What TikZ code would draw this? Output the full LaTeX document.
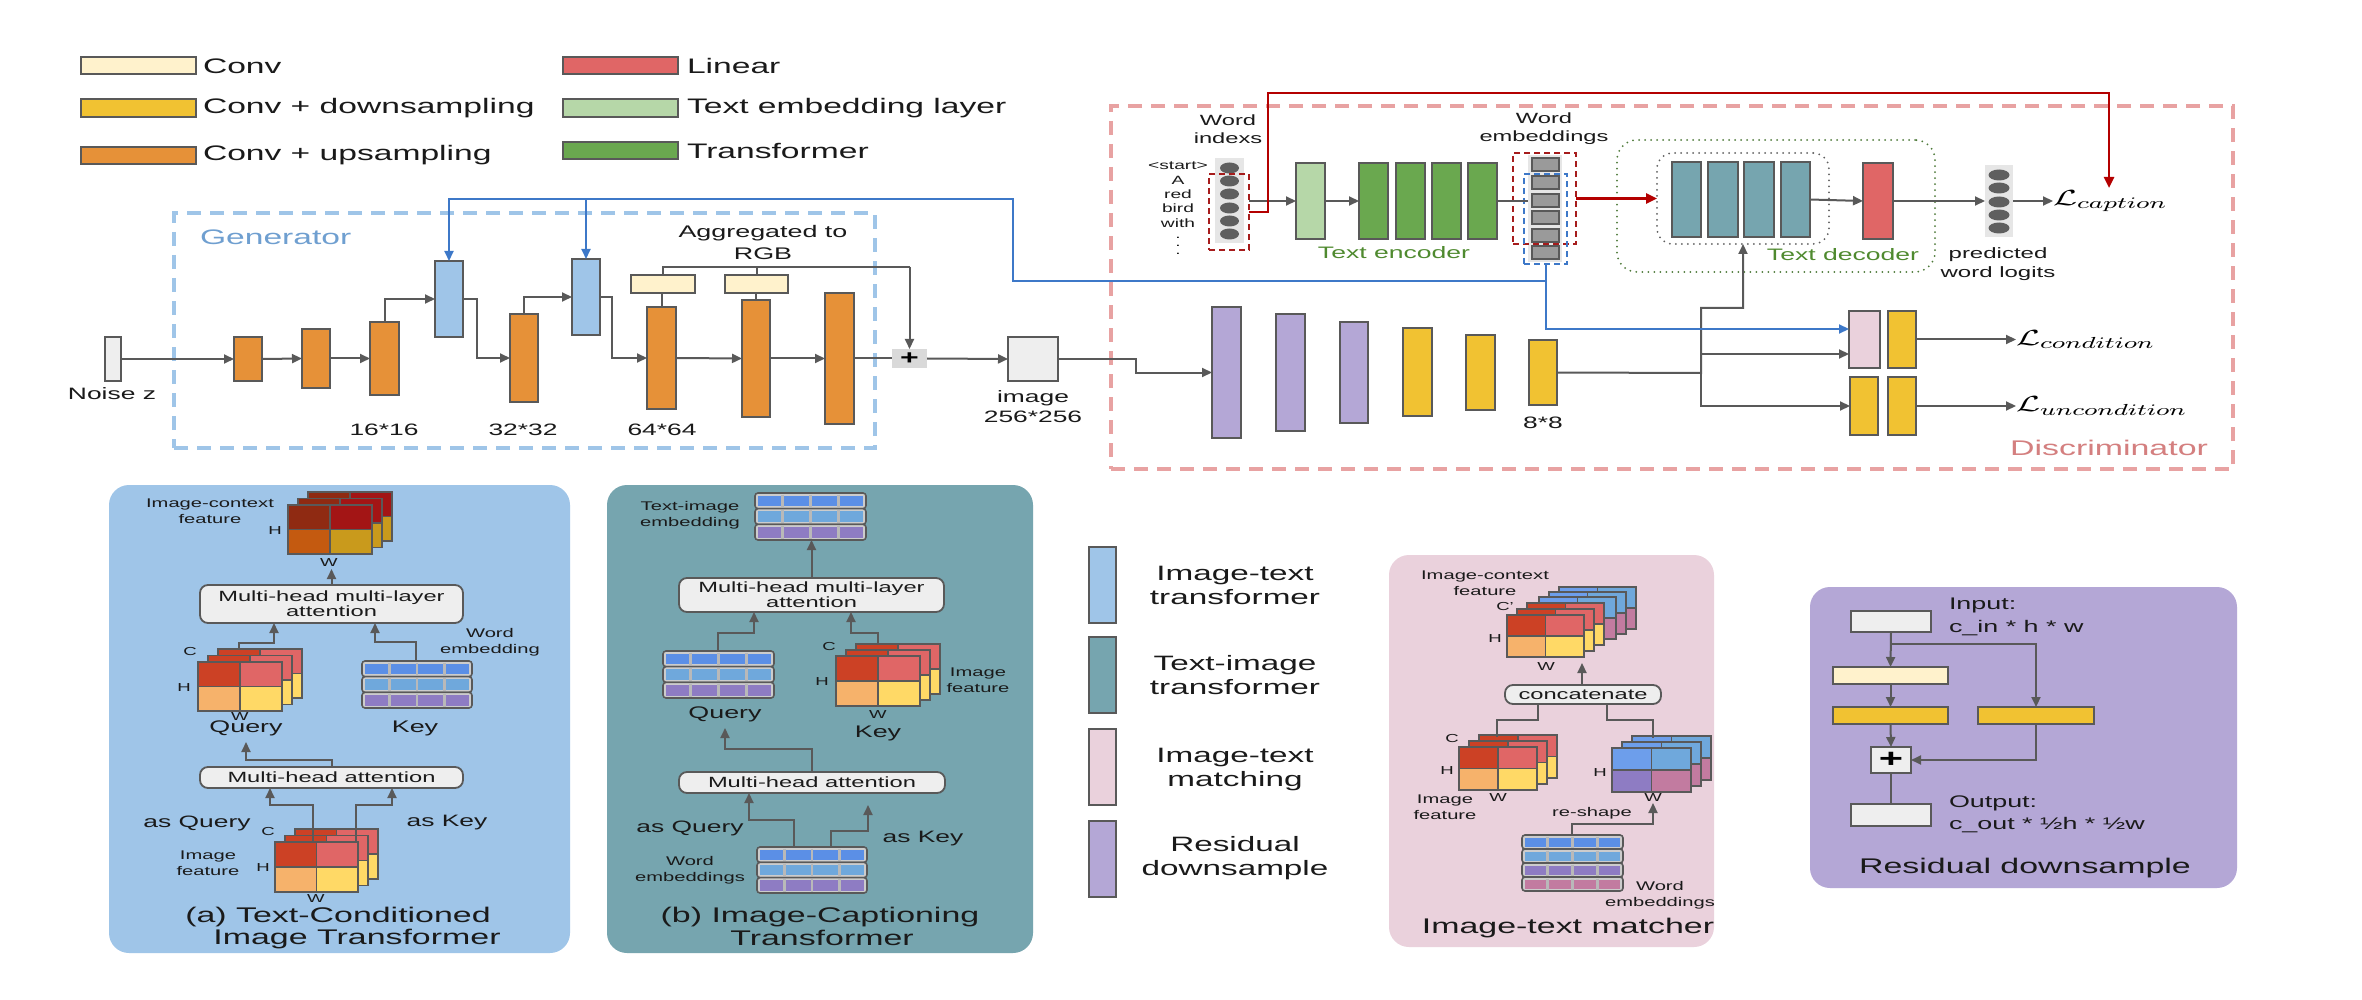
\documentclass[tikz,border=0pt]{standalone}
\usepackage{fontspec}
\setmainfont[FakeStretch=1.6]{Liberation Sans}
\usepackage{graphicx}
\usetikzlibrary{arrows.meta,calc,shapes.geometric}
\definecolor{cconv}{HTML}{FFF2CC}
\definecolor{cdown}{HTML}{F1C232}
\definecolor{cup}{HTML}{E69138}
\definecolor{clin}{HTML}{E06666}
\definecolor{ctemb}{HTML}{B6D7A8}
\definecolor{ctrans}{HTML}{6AA84F}
\definecolor{cit}{HTML}{9FC5E8}
\definecolor{cti}{HTML}{76A5AF}
\definecolor{cmatch}{HTML}{EAD1DC}
\definecolor{cres}{HTML}{B4A7D6}
\definecolor{bord}{HTML}{595959}
\definecolor{lgray}{HTML}{595959}
\definecolor{lgfill}{HTML}{EEEEEE}
\definecolor{plusg}{HTML}{D9D9D9}
\definecolor{colbg}{HTML}{E6E6E6}
\definecolor{dotc}{HTML}{5F5F5F}
\definecolor{sqc}{HTML}{9A9A9A}
\definecolor{bline}{HTML}{3D78C8}
\definecolor{rline}{HTML}{B40000}
\definecolor{rdk}{HTML}{A61C1C}
\definecolor{gdash}{HTML}{9FC5E8}
\definecolor{ddash}{HTML}{E8A2A2}
\definecolor{gent}{HTML}{6F9FD0}
\definecolor{disct}{HTML}{D47F7F}
\definecolor{dgreen}{HTML}{4E7A3A}
\definecolor{enct}{HTML}{4F8A2F}
\definecolor{txtc}{HTML}{1A1A1A}
\definecolor{icA}{HTML}{8F2A12}
\definecolor{icB}{HTML}{A31515}
\definecolor{icC}{HTML}{C45A10}
\definecolor{icD}{HTML}{C99A1C}
\definecolor{qA}{HTML}{CC4125}
\definecolor{qB}{HTML}{E06666}
\definecolor{qC}{HTML}{F6B26B}
\definecolor{qD}{HTML}{FFD966}
\definecolor{mA}{HTML}{6D9EEB}
\definecolor{mB}{HTML}{6FA8DC}
\definecolor{mC}{HTML}{8E7CC3}
\definecolor{mD}{HTML}{C27BA0}
\definecolor{wbA}{HTML}{5B8FE6}
\definecolor{wbB}{HTML}{6FA8DC}
\definecolor{wpu}{HTML}{8E7CC3}
\definecolor{wpk}{HTML}{C27BA0}
\newcommand{\fs}[2]{\fontsize{#1}{#2}\selectfont}
\newcommand{\mkbox}[7]{%
  \pgfmathsetmacro\mbcx{(#3+#5)/2}%
  \pgfmathsetmacro\mbcy{(#4+#6)/2}%
  \pgfmathsetmacro\mbw{abs(#5-#3)/2}%
  \pgfmathsetmacro\mbh{abs(#6-#4)/2}%
  \node[#2,minimum width=\mbw pt,minimum height=\mbh pt] (#1) at (\mbcx,\mbcy) {#7};}
\newcommand{\fcols}[4]{\def\fTL{#1}\def\fTR{#2}\def\fBL{#3}\def\fBR{#4}}
\newcommand{\fstack}[7]{%
  \foreach \i in {#5,...,1}{%
    \pgfmathsetmacro\fx{#1+(\i-1)*#6}%
    \pgfmathsetmacro\fy{#2+(\i-1)*#7}%
    \pgfmathsetmacro\fxm{\fx+#3/2}%
    \pgfmathsetmacro\fxe{\fx+#3}%
    \pgfmathsetmacro\fym{\fy+#4/2}%
    \pgfmathsetmacro\fye{\fy+#4}%
    \fill[\fTL] (\fx,\fy) rectangle (\fxm,\fym);
    \fill[\fTR] (\fxm,\fy) rectangle (\fxe,\fym);
    \fill[\fBL] (\fx,\fym) rectangle (\fxm,\fye);
    \fill[\fBR] (\fxm,\fym) rectangle (\fxe,\fye);
    \draw[bord,line width=0.9pt] (\fx,\fy) rectangle (\fxe,\fye) (\fxm,\fy) -- (\fxm,\fye) (\fx,\fym) -- (\fxe,\fym);
  }}
\newcommand{\wgrid}[6]{%
  \pgfmathsetmacro\wgh{(#4-#2)/#5}%
  \pgfmathsetmacro\wgq{(#3-#1)/4}%
  \foreach \wc [count=\wr] in {#6}{%
    \pgfmathsetmacro\wya{#2+(\wr-1)*\wgh}%
    \pgfmathsetmacro\wyb{\wya+\wgh}%
    \draw[draw=bord,fill=gray!40,line width=0.8pt,rounded corners=1.5pt] (#1,\wya) rectangle (#3,\wyb);
    \fill[\wc] ($(#1,\wya)+(3,2.5)$) rectangle ($(#3,\wyb)+(-3,-2.5)$);
    \foreach \k in {1,2,3}{\draw[gray!55,line width=1.3pt] ($(#1,\wya)+(\k*\wgq,1.5)$) -- ($(#1,\wyb)+(\k*\wgq,-1.5)$);}
  }}
\begin{document}
\begin{tikzpicture}[x=0.5pt,y=-0.5pt,
  blk/.style={draw=bord,line width=0.9pt,inner sep=0pt,outer sep=0pt},
  nob/.style={inner sep=0pt,outer sep=0pt},
  txt/.style={inner sep=0pt,outer sep=0pt,align=center,text=txtc},
  conn/.style={draw=lgray,line width=1pt,-{Triangle[length=5pt,width=4.5pt]}},
  plainln/.style={draw=lgray,line width=1pt},
  bconn/.style={draw=bline,line width=1pt,-{Triangle[length=5pt,width=4.5pt]}},
  bplain/.style={draw=bline,line width=1pt},
  rconn/.style={draw=rline,line width=1.2pt,-{Triangle[length=5.5pt,width=5pt]}},
  rdash/.style={draw=rdk,line width=0.9pt,dash pattern=on 3pt off 2pt,inner sep=0pt,outer sep=0pt},
  bdash/.style={draw=bline,line width=0.9pt,dash pattern=on 3pt off 2pt,inner sep=0pt,outer sep=0pt},
  dotgreen/.style={draw=dgreen,line width=1pt,line cap=round,dash pattern=on 0pt off 3pt,rounded corners=10pt,inner sep=0pt,outer sep=0pt},
  dotgray/.style={draw=dotc,line width=1pt,line cap=round,dash pattern=on 0pt off 3pt,rounded corners=8pt,inner sep=0pt,outer sep=0pt},
  gbox/.style={draw=gdash,line width=2pt,dash pattern=on 7pt off 4.5pt,inner sep=0pt,outer sep=0pt},
  dbox/.style={draw=ddash,line width=2pt,dash pattern=on 7pt off 4.5pt,inner sep=0pt,outer sep=0pt},
  wdot/.style={ellipse,fill=dotc,inner sep=0pt,minimum width=9.5pt,minimum height=5.5pt},
  rbox/.style={draw=bord,fill=lgfill,line width=0.9pt,rounded corners=4pt,inner sep=0pt,outer sep=0pt,align=center,text=txtc,font=\fs{7.4}{7.6}},
  panel/.style={inner sep=0pt,outer sep=0pt,rounded corners=10pt},
  lgt/.style={txt,anchor=west,font=\fs{10.5}{12}},
  smt/.style={txt,font=\fs{8.25}{10}},
  wit/.style={txt,font=\fs{7.4}{9}},
  stt/.style={txt,font=\fs{6}{6.8}},
  qkt/.style={txt,font=\fs{8.4}{10}},
  tinyt/.style={txt,font=\fs{6.3}{8}},
  chw/.style={txt,font=\fs{5.8}{6}},
  titt/.style={txt,font=\fs{10.6}{11}},
  midt/.style={txt,font=\fs{10.4}{12}},
  rest/.style={txt,anchor=west,font=\fs{8.4}{11.5}},
  mathl/.style={inner sep=0pt,outer sep=0pt,anchor=west,font=\fs{11}{13}}
]
\fill[white] (0,0) rectangle (2362,1000);
\useasboundingbox (0,0) rectangle (2362,1000);

% ---------------- legend (top)
\mkbox{lg1}{blk,fill=cconv}{81}{57}{196}{74}{}
\mkbox{lg2}{blk,fill=cdown}{81}{99}{196}{117}{}
\mkbox{lg3}{blk,fill=cup}{81}{147}{196}{164}{}
\mkbox{lg4}{blk,fill=clin}{563}{57}{678}{74}{}
\mkbox{lg5}{blk,fill=ctemb}{563}{99}{678}{117}{}
\mkbox{lg6}{blk,fill=ctrans}{563}{142}{678}{159}{}
\node[lgt] (lg1t) at (203,66) {Conv};
\node[lgt] (lg2t) at (203,108) {Conv + downsampling};
\node[lgt] (lg3t) at (203,155) {Conv + upsampling};
\node[lgt] (lg4t) at (687,66) {Linear};
\node[lgt] (lg5t) at (687,108) {Text embedding layer};
\node[lgt] (lg6t) at (687,151) {Transformer};

% ---------------- generator
\mkbox{genbox}{gbox}{174}{213}{875}{448}{}
\node[txt,anchor=west,text=gent,font=\fs{10.5}{12}] (genlab) at (200,237) {Generator};
\mkbox{noise}{blk,fill=lgfill}{105}{337}{121}{381}{}
\node[smt] (noiset) at (112,394) {Noise z};
\mkbox{o1}{blk,fill=cup}{234}{337}{262}{381}{}
\mkbox{o2}{blk,fill=cup}{302}{329}{330}{388}{}
\mkbox{o3}{blk,fill=cup}{370}{322}{399}{395}{}
\mkbox{b1}{blk,fill=cit}{435}{261}{463}{337}{}
\mkbox{o4}{blk,fill=cup}{510}{314}{538}{402}{}
\mkbox{b2}{blk,fill=cit}{572}{259}{600}{335}{}
\mkbox{o5}{blk,fill=cup}{647}{307}{676}{409}{}
\mkbox{o6}{blk,fill=cup}{742}{300}{770}{417}{}
\mkbox{o7}{blk,fill=cup}{825}{293}{854}{424}{}
\mkbox{c1}{blk,fill=cconv}{631}{275}{695}{293}{}
\mkbox{c2}{blk,fill=cconv}{725}{275}{788}{293}{}
\mkbox{gplus}{nob,fill=plusg,font=\fs{10}{10}\bfseries}{892}{349}{927}{368}{+}
\mkbox{img}{blk,fill=lgfill}{1008}{337}{1058}{381}{}
\node[smt] (l16) at (384,430) {16*16};
\node[smt] (l32) at (523,430) {32*32};
\node[smt] (l64) at (662,430) {64*64};
\node[txt,font=\fs{8.4}{11}] (aggt) at (763,242) {Aggregated to\\RGB};
\node[smt] (imgt) at (1033,407) {image\\256*256};
\draw[conn] (noise.east) -- (o1.west);
\draw[conn] (o1.east) -- (o2.west);
\draw[conn] (o2.east) -- (o3.west);
\draw[conn] (o3.north) |- (b1.west);
\draw[conn] (b1.east) -- ++(14,0) |- (o4.west);
\draw[conn] (o4.north) |- (b2.west);
\draw[conn] (b2.east) -- ++(12,0) |- (o5.west);
\draw[conn] (o5.east) -- (o6.west);
\draw[conn] (o6.east) -- (o7.west);
\draw[plainln] (o7.east) -- (gplus.west);
\draw[conn] (gplus.east) -- (img.west);
\coordinate (agg) at (909.5,267);
\draw[plainln] (o5.north) -- (o5.north |- c1.south);
\draw[plainln] (o6.north) -- (o6.north |- c2.south);
\draw[plainln] (c1.north) -- (c1.north |- agg) -- (agg);
\draw[plainln] (c2.north) -- (c2.north |- agg);
\draw[conn] (agg) -- (gplus.north);

% ---------------- discriminator
\mkbox{discbox}{dbox}{1111}{106}{2233}{469}{}
\node[txt,text=disct,font=\fs{10.6}{12}] (disclab) at (2109,448) {Discriminator};
% word indexes
\fill[colbg] (1215,158) rectangle (1244,243);
\foreach \yy [count=\n] in {168,181,194,208,221,234}{\node[wdot] (wi\n) at (1229.5,\yy) {};}
\mkbox{wibox}{rdash}{1209}{174}{1249}{250}{}
\node[wit] (wilab) at (1228,129) {Word\\indexs};
\node[stt] (s1) at (1178,166) {\textless start\textgreater};
\node[stt] (s2) at (1178,180) {A};
\node[stt] (s3) at (1178,194) {red};
\node[stt] (s4) at (1178,208) {bird};
\node[stt] (s5) at (1178,223) {with};
\node[stt] (s6) at (1178,240) {$\vdots$};
% text encoder
\mkbox{temb}{blk,fill=ctemb}{1296}{163}{1325}{239}{}
\mkbox{tr1}{blk,fill=ctrans}{1359}{163}{1388}{239}{}
\mkbox{tr2}{blk,fill=ctrans}{1396}{163}{1425}{239}{}
\mkbox{tr3}{blk,fill=ctrans}{1432}{163}{1461}{239}{}
\mkbox{tr4}{blk,fill=ctrans}{1468}{163}{1497}{239}{}
\node[txt,text=enct,font=\fs{8.3}{10}] (enclab) at (1394,253) {Text encoder};
% word embeddings
\mkbox{embcol}{nob,fill=colbg}{1528}{155}{1562}{262}{}
\foreach \ya/\yb [count=\n] in {158/171,176/189,194/207,211/224,229/242,246/259}{%
  \mkbox{sq\n}{blk,fill=sqc,line width=0.8pt}{1532}{\ya}{1559}{\yb}{}}
\mkbox{embred}{rdash}{1513}{153}{1576}{244}{}
\mkbox{embblue}{bdash}{1524}{174}{1567}{264}{}
\node[wit] (emblab) at (1544,129) {Word\\embeddings};
% text decoder
\mkbox{decout}{dotgreen}{1617}{140}{1935}{272}{}
\mkbox{decin}{dotgray}{1657}{153}{1829}{244}{}
\mkbox{td1}{blk,fill=cti}{1672}{162}{1701}{237}{}
\mkbox{td2}{blk,fill=cti}{1708}{162}{1738}{237}{}
\mkbox{td3}{blk,fill=cti}{1744}{162}{1774}{237}{}
\mkbox{td4}{blk,fill=cti}{1781}{162}{1810}{237}{}
\mkbox{lin}{blk,fill=clin}{1863}{163}{1893}{239}{}
\node[txt,text=enct,font=\fs{8.3}{10}] (declab) at (1843,255) {Text decoder};
\mkbox{predcol}{nob,fill=colbg}{1985}{165}{2013}{237}{}
\foreach \yy [count=\n] in {175,188,202,215,228}{\node[wdot,minimum width=10.5pt] (pd\n) at (1999,\yy) {};}
\node[txt,font=\fs{7.5}{9.5}] (predlab) at (1998,264) {predicted\\word logits};
\node[mathl] (lcap) at (2053,201) {\scalebox{1.6}[1]{$\mathcal{L}_{caption}$}};
% lower discriminator
\mkbox{p1}{blk,fill=cres}{1212}{307}{1241}{438}{}
\mkbox{p2}{blk,fill=cres}{1276}{314}{1305}{431}{}
\mkbox{p3}{blk,fill=cres}{1340}{322}{1368}{423}{}
\mkbox{y1}{blk,fill=cdown}{1403}{328}{1432}{416}{}
\mkbox{y2}{blk,fill=cdown}{1466}{335}{1495}{410}{}
\mkbox{y3}{blk,fill=cdown}{1529}{340}{1557}{405}{}
\node[smt] (l88) at (1543,423) {8*8};
\mkbox{pink}{blk,fill=cmatch}{1849}{311}{1880}{368}{}
\mkbox{y5}{blk,fill=cdown}{1888}{311}{1916}{368}{}
\mkbox{y6}{blk,fill=cdown}{1850}{377}{1878}{435}{}
\mkbox{y7}{blk,fill=cdown}{1888}{377}{1916}{435}{}
\node[mathl] (lcond) at (2016,339.5) {\scalebox{1.6}[1]{$\mathcal{L}_{condition}$}};
\node[mathl] (lunc) at (2016,406) {\scalebox{1.6}[1]{$\mathcal{L}_{uncondition}$}};
% discriminator connectors
\coordinate (wiout) at (1249,201);
\draw[conn] (wiout) -- (temb.west);
\draw[conn] (temb.east) -- (tr1.west);
\draw[plainln] (tr4.east) -- (tr4.east -| embcol.west);
\draw[conn] (td4.east) -- (lin.west);
\draw[conn] (lin.east) -- (predcol.west);
\draw[conn] (predcol.east) -- (lcap.west);
\coordinate (rstart) at (1249,212);
\coordinate (lcaptop) at (2109,188);
\draw[rconn] (rstart) -- ++(19,0) |- (2109,93) -- (lcaptop);
\draw[rconn] (embred.east) -- (decin.west);
\draw[conn] (img.east) -- ++(78,0) |- (p1.west);
\coordinate (dja) at (1701,308);
\coordinate (djb) at (1701,354);
\coordinate (dj) at (1701,373);
\draw[conn] (y3.east) -- (dj) -- (dja) -| (decin.south);
\draw[conn] (djb) -- (djb -| pink.west);
\draw[conn] (dj) |- (y6.west);
\draw[conn] (y5.east) -- (lcond.west);
\draw[conn] (y7.east) -- (lunc.west);
% blue connectors
\coordinate (bturn) at (1013,199);
\coordinate (bsplit) at (586,199);
\coordinate (pinkin) at (1849,329);
\draw[bconn] (embblue.south) |- (bturn |- 0,281) -- (bturn) -- (b1.north |- bturn) -- (b1.north);
\draw[bconn] (bsplit) -- (b2.north);
\draw[bconn] (embblue.south) -- (embblue.south |- pinkin) -- (pinkin);

% ---------------- panel (a)
\mkbox{pa}{panel,fill=cit}{109}{485}{570}{953}{}
\fcols{icA}{icB}{icC}{icD}
\fstack{288}{505}{84}{49}{3}{10}{-6.5}
\node[tinyt] (aict) at (210,511) {Image-context\\feature};
\node[chw] (ah1) at (275,531) {H};
\node[chw] (aw1) at (329,563) {W};
\mkbox{amhmla}{rbox}{200}{585}{463}{623}{Multi-head multi-layer\\attention}
\coordinate (aic) at (331.5,569);
\draw[conn] (amhmla.north) -- (aic);
\fcols{qA}{qB}{qC}{qD}
\fstack{198}{662}{84}{49}{3}{10}{-6.5}
\node[chw] (ac2) at (190,652) {C};
\node[chw] (ah2) at (184,688) {H};
\node[chw] (aw2) at (240,717) {W};
\node[qkt] (aq) at (246,728) {Query};
\wgrid{362}{661}{472}{708}{3}{wbA,wbB,wpu}
\node[qkt] (ak) at (415,728) {Key};
\node[tinyt] (awe) at (490,642) {Word\\embedding};
\coordinate (aqtop) at (239,649);
\coordinate (aqin) at (274,623);
\draw[conn] (aqtop) -- ++(0,-6) -| (aqin);
\coordinate (aktop) at (416,661);
\coordinate (akin) at (375,623);
\draw[conn] (aktop) -- ++(0,-19) -| (akin);
\mkbox{amha}{rbox}{200}{767}{463}{788}{Multi-head attention}
\coordinate (aqbot) at (246,742);
\draw[conn] (amha.north) -- ++(0,-7) -| (aqbot);
\fstack{275}{842}{83}{50}{3}{10}{-6.5}
\node[chw] (ac3) at (268,832) {C};
\node[chw] (ah3) at (263,868) {H};
\node[chw] (aw3) at (316,899) {W};
\node[tinyt] (aif) at (208,863) {Image\\feature};
\coordinate (aif1) at (313,842);
\coordinate (amq) at (270,788);
\coordinate (aif2) at (356,842);
\coordinate (amk) at (392,788);
\draw[conn] (aif1) -- ++(0,-37) -| (amq);
\draw[conn] (aif2) -- ++(0,-37) -| (amk);
\node[txt,font=\fs{8.25}{10}] (aasq) at (197,823) {as Query};
\node[txt,font=\fs{8.25}{10}] (aask) at (447,823) {as Key};
\node[titt] (atit1) at (338,917) {(a) Text-Conditioned};
\node[titt] (atit2) at (357,939) {Image Transformer};

% ---------------- panel (b)
\mkbox{pb}{panel,fill=cti}{607}{485}{1033}{953}{}
\wgrid{755}{493}{866}{540}{3}{wbA,wbB,wpu}
\node[tinyt] (btie) at (690,515) {Text-image\\embedding};
\mkbox{bmhmla}{rbox}{679}{578}{944}{612}{Multi-head multi-layer\\attention}
\coordinate (btib) at (811.5,540);
\draw[conn] (bmhmla.north) -- (btib);
\wgrid{663}{651}{774}{698}{3}{wbA,wbB,wpu}
\node[qkt] (bq) at (725,714) {Query};
\fcols{qA}{qB}{qC}{qD}
\fstack{836}{656}{84}{50}{3}{10}{-6}
\node[chw] (bc) at (829,647) {C};
\node[chw] (bh) at (822,682) {H};
\node[chw] (bw) at (878,715) {W};
\node[qkt] (bk) at (878,733) {Key};
\node[tinyt] (bif) at (978,680) {Image\\feature};
\coordinate (bqtop) at (718,651);
\coordinate (bqin) at (754,612);
\draw[conn] (bqtop) -- ++(0,-18) -| (bqin);
\coordinate (bktop) at (878,644);
\coordinate (bkin) at (851,612);
\draw[conn] (bktop) -- ++(0,-11) -| (bkin);
\mkbox{bmha}{rbox}{679}{772}{945}{793}{Multi-head attention}
\coordinate (bqbot) at (725,728);
\draw[conn] (bmha.north) -- ++(0,-23) -| (bqbot);
\wgrid{757}{847}{867}{893}{3}{wbA,wbB,wpu}
\node[tinyt] (bwe) at (690,870) {Word\\embeddings};
\coordinate (bw1) at (794,847);
\coordinate (bmq) at (749,793);
\coordinate (bw2) at (831,847);
\coordinate (bmk) at (868,805);
\draw[conn] (bw1) -- ++(0,-27) -| (bmq);
\draw[conn] (bw2) -- ++(0,-16) -| (bmk);
\node[txt,font=\fs{8.25}{10}] (basq) at (690,828) {as Query};
\node[txt,font=\fs{8.25}{10}] (bask) at (923,839) {as Key};
\node[titt] (btit1) at (820,917) {(b) Image-Captioning};
\node[titt] (btit2) at (822,938) {Transformer};

% ---------------- middle legend
\mkbox{ml1}{blk,fill=cit}{1089}{547}{1116}{623}{}
\mkbox{ml2}{blk,fill=cti}{1089}{637}{1116}{713}{}
\mkbox{ml3}{blk,fill=cmatch}{1089}{729}{1116}{805}{}
\mkbox{ml4}{blk,fill=cres}{1089}{821}{1116}{897}{}
\node[midt] (ml1t) at (1235,585) {Image-text\\transformer};
\node[midt] (ml2t) at (1235,675) {Text-image\\transformer};
\node[midt] (ml3t) at (1235,769) {Image-text\\matching};
\node[midt] (ml4t) at (1235,858) {Residual\\downsample};

% ---------------- image-text matcher
\mkbox{pm}{panel,fill=cmatch}{1389}{555}{1714}{947}{}
\fcols{mA}{mB}{mC}{mD}
\fstack{1539}{597}{77}{42}{3}{10}{-5}
\fcols{qA}{qB}{qC}{qD}
\fstack{1507}{615}{77}{42}{3}{10}{-6}
\node[tinyt] (mict) at (1485,583) {Image-context\\feature};
\node[chw] (mc1) at (1505,607) {C'};
\node[chw] (mh1) at (1495,639) {H};
\node[chw] (mw1) at (1546,667) {W};
\mkbox{mcat}{rbox,font=\fs{7.4}{8}}{1505}{685}{1661}{704}{concatenate}
\coordinate (mtop) at (1582,663);
\draw[conn] (mcat.north -| mtop) -- (mtop);
\fcols{qA}{qB}{qC}{qD}
\fstack{1459}{747}{78}{43}{3}{10}{-6}
\fcols{mA}{mB}{mC}{mD}
\fstack{1612}{748}{79}{44}{3}{10}{-6}
\coordinate (mif) at (1497,737);
\coordinate (mbf) at (1653,738);
\draw[plainln] (1538,704) -- (1538,720) -| (mif);
\draw[plainln] (1607,704) -- (1607,720) -| (mbf);
\node[chw] (mc2) at (1452,739) {C};
\node[chw] (mh2) at (1447,771) {H};
\node[chw] (mw2) at (1498,798) {W};
\node[tinyt] (mif2) at (1445,807) {Image\\feature};
\node[chw] (mh3) at (1600,773) {H};
\node[chw] (mw3) at (1653,798) {W};
\wgrid{1522}{835}{1623}{891}{4}{wbA,wbB,wpu,wpk}
\coordinate (mwtop) at (1572,835);
\coordinate (mbin) at (1653,803);
\draw[conn] (mwtop) -- ++(0,-11) -| (mbin);
\node[tinyt] (mres) at (1592,813) {re-shape};
\node[tinyt] (mwe) at (1660,895) {Word\\embeddings};
\node[titt] (mtit) at (1568,928) {Image-text matcher};

% ---------------- residual downsample
\mkbox{pr}{panel,fill=cres}{1810}{587}{2237}{888}{}
\mkbox{rin}{blk,fill=lgfill}{1851}{611}{1931}{632}{}
\mkbox{rconv}{blk,fill=cconv}{1833}{667}{1948}{684}{}
\mkbox{ry1}{blk,fill=cdown}{1833}{707}{1948}{724}{}
\mkbox{ry2}{blk,fill=cdown}{1978}{707}{2094}{724}{}
\mkbox{rplus}{blk,fill=lgfill,font=\fs{13}{13}\bfseries}{1871}{747}{1911}{773}{+}
\mkbox{rout}{blk,fill=lgfill}{1851}{804}{1931}{826}{}
\node[rest] (rint1) at (1949,605) {Input:};
\node[rest] (rint2) at (1949,628) {c\_in * h * w};
\node[rest] (routt1) at (1949,803) {Output:};
\node[rest] (routt2) at (1949,825) {c\_out * ½h * ½w};
\node[titt] (rtit) at (2025,868) {Residual downsample};
\coordinate (rbr) at (1891,644);
\draw[conn] (rin.south) -- (rconv.north);
\draw[conn] (rbr) -| (ry2.north);
\draw[conn] (rconv.south) -- (ry1.north);
\draw[conn] (ry1.south) -- (rplus.north);
\draw[conn] (ry2.south) |- (rplus.east);
\draw[plainln] (rplus.south) -- (rout.north);
\end{tikzpicture}
\end{document}
